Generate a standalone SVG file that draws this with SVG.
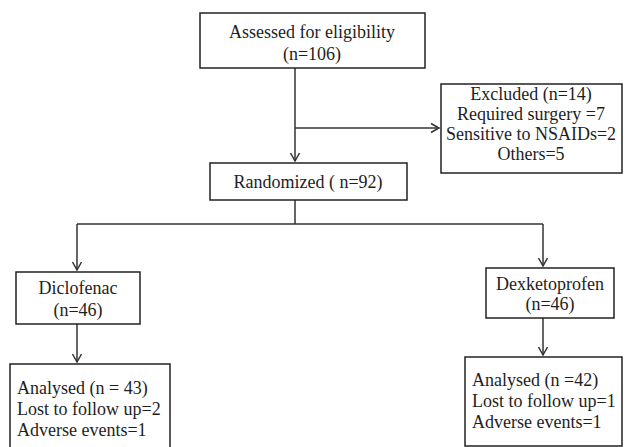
<svg xmlns="http://www.w3.org/2000/svg" width="626" height="447" viewBox="0 0 626 447">
<style>
.box{fill:#fff;stroke:#222;stroke-width:1.5}
.t{font-family:'Liberation Serif','DejaVu Serif','Times New Roman',serif;font-size:18px;fill:#1e1e1e}
.c{text-anchor:middle}
.ln{fill:none;stroke:#333;stroke-width:1.5}
</style>
<defs>
<marker id="ah" markerUnits="userSpaceOnUse" markerWidth="12" markerHeight="12" viewBox="0 0 12 12" refX="10" refY="6" orient="auto">
<path d="M2,1.5 L10,6 L2,10.5" fill="none" stroke="#333" stroke-width="1.5"/>
</marker>
</defs>
<rect width="626" height="447" fill="#fff"/>
<g id="connectors">
<path class="ln" d="M295,68 V161" marker-end="url(#ah)"/>
<path class="ln" d="M295,128 H439" marker-end="url(#ah)"/>
<path class="ln" d="M295,200 V224 M77,224 H543"/>
<path class="ln" d="M77,224 V270" marker-end="url(#ah)"/>
<path class="ln" d="M543,224 V266" marker-end="url(#ah)"/>
<path class="ln" d="M77,324 V362" marker-end="url(#ah)"/>
<path class="ln" d="M543,318 V355" marker-end="url(#ah)"/>
</g>
<g font-family="Liberation Serif, serif">
<g id="assessed">
<rect class="box" x="200" y="13" width="225" height="55"/>
<text class="t c" x="312" y="38">Assessed for eligibility</text>
<text class="t c" x="312" y="60">(n=106)</text>
</g>
<g id="excluded">
<rect class="box" x="441" y="84" width="181" height="89"/>
<text class="t c" x="531" y="100">Excluded (n=14)</text>
<text class="t c" x="531" y="120">Required surgery =7</text>
<text class="t c" x="531" y="140">Sensitive to NSAIDs=2</text>
<text class="t c" x="531" y="160">Others=5</text>
</g>
<g id="randomized">
<rect class="box" x="210" y="163" width="197" height="37"/>
<text class="t c" x="308" y="188">Randomized ( n=92)</text>
</g>
<g id="diclofenac">
<rect class="box" x="16" y="272" width="124" height="52"/>
<text class="t c" x="78" y="294">Diclofenac</text>
<text class="t c" x="78" y="316">(n=46)</text>
</g>
<g id="dexketoprofen">
<rect class="box" x="486" y="268" width="128" height="50"/>
<text class="t c" x="550" y="290">Dexketoprofen</text>
<text class="t c" x="550" y="310">(n=46)</text>
</g>
<g id="analysed-left">
<rect class="box" x="10" y="364" width="160" height="90"/>
<text class="t" x="17" y="394">Analysed (n = 43)</text>
<text class="t" x="17" y="415">Lost to  follow up=2</text>
<text class="t" x="17" y="436">Adverse events=1</text>
</g>
<g id="analysed-right">
<rect class="box" x="465" y="357" width="157" height="89"/>
<text class="t" x="472" y="386">Analysed (n =42)</text>
<text class="t" x="472" y="407">Lost to  follow up=1</text>
<text class="t" x="472" y="428">Adverse events=1</text>
</g>
</g>
</svg>
